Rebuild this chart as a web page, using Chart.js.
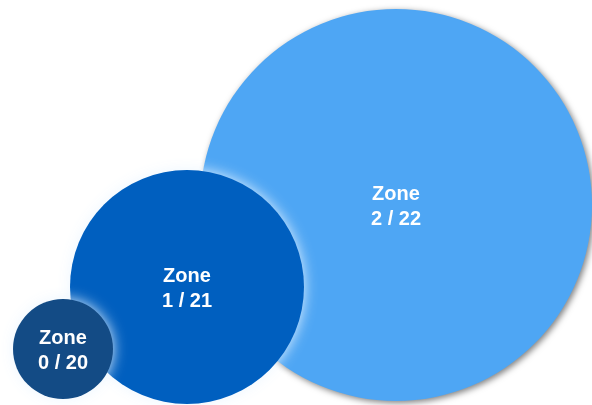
<!DOCTYPE html>
<html><head><meta charset="utf-8">
<script src="https://cdn.jsdelivr.net/npm/chart.js@4/dist/chart.umd.min.js"></script>
<style>html,body{margin:0;padding:0;background:#fff}#wrap{width:592px;height:405px}</style>
</head><body><div id="wrap"><canvas id="c"></canvas></div>
<script>
const zones = ['0', '1', '2'];
const counts = [20, 21, 22];
const xValues = [63, 187, 396];
const yValues = [56, 118, 200];
const radii = [50, 117, 196];
const colors = ['#134b85', '#005fbf', '#4ea6f4'];
const shadows = [
  {color:'rgba(235,245,255,0.95)', blur:14, ox:0, oy:0},
  {color:'rgba(235,245,255,0.95)', blur:14, ox:0, oy:0},
  {color:'rgba(0,0,0,0.5)', blur:6, ox:2, oy:2}
];

// keep the full canvas as the chart area (no automatic padding for bubble radii)
if (Chart.BubbleController) {
  Chart.BubbleController.prototype.getMaxOverflow = function(){ return 0; };
}

const datasets = zones.map((z,i)=>({
  label: 'Zone ' + z + ' / ' + counts[i],
  data: [{x:xValues[i], y:yValues[i], r:radii[i]}],
  backgroundColor: colors[i],
  borderWidth: 0,
  hoverBorderWidth: 0
}));

const shadowPlugin = {
  id:'shadow',
  beforeDatasetDraw(chart, args){
    const s = shadows[args.index];
    const ctx = chart.ctx;
    ctx.save();
    ctx.shadowColor = s.color; ctx.shadowBlur = s.blur;
    ctx.shadowOffsetX = s.ox; ctx.shadowOffsetY = s.oy;
  },
  afterDatasetDraw(chart, args){
    chart.ctx.restore();
    const ctx = chart.ctx;
    const el = chart.getDatasetMeta(args.index).data[0];
    ctx.save();
    ctx.fillStyle = '#ffffff';
    ctx.font = 'bold 20px "Liberation Sans", Arial, sans-serif';
    ctx.textAlign = 'center';
    ctx.textBaseline = 'middle';
    ctx.fillText('Zone', el.x, el.y - 11);
    ctx.fillText(zones[args.index] + ' / ' + counts[args.index], el.x, el.y + 14);
    ctx.restore();
  }
};

new Chart(document.getElementById('c'), {
  type:'bubble',
  data:{datasets},
  options:{
    responsive:true, maintainAspectRatio:false, animation:false,
    layout:{padding:0},
    clip:false,
    plugins:{legend:{display:false}, tooltip:{enabled:false}},
    scales:{
      x:{type:'linear', min:0, max:592, display:false},
      y:{type:'linear', min:0, max:405, display:false}
    }
  },
  plugins:[shadowPlugin]
});
</script></body></html>
